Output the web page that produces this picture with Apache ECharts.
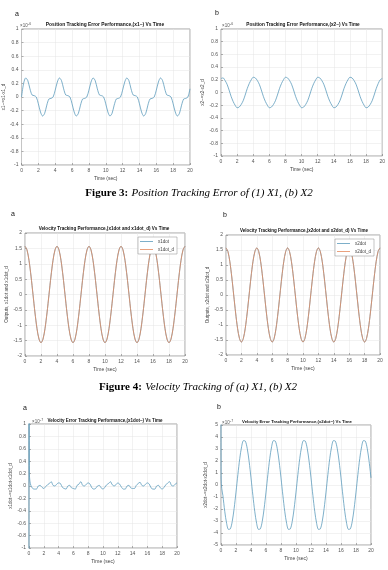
<!DOCTYPE html>
<html>
<head>
<meta charset="utf-8">
<script src="https://cdn.jsdelivr.net/npm/echarts@6/dist/echarts.min.js"></script>
<style>
  html, body { margin: 0; padding: 0; background: #fff; }
  #chart { width: 388px; height: 570px; }
</style>
</head>
<body>
<div id="chart"></div>
<script>
// sample times (sec)
var time = [0, 0.25, 0.5, 0.75, 1, 1.25, 1.5, 1.75, 2, 2.25, 2.5, 2.75, 3, 3.25, 3.5, 3.75,
  4, 4.25, 4.5, 4.75, 5, 5.25, 5.5, 5.75, 6, 6.25, 6.5, 6.75, 7, 7.25, 7.5, 7.75,
  8, 8.25, 8.5, 8.75, 9, 9.25, 9.5, 9.75, 10, 10.25, 10.5, 10.75, 11, 11.25, 11.5, 11.75,
  12, 12.25, 12.5, 12.75, 13, 13.25, 13.5, 13.75, 14, 14.25, 14.5, 14.75, 15, 15.25, 15.5, 15.75,
  16, 16.25, 16.5, 16.75, 17, 17.25, 17.5, 17.75, 18, 18.25, 18.5, 18.75, 19, 19.25, 19.5, 19.75, 20];

// Figure 3a : x1~ (x 1e-6)
var posErr1 = [0, 0.2, 0.28, 0.24, 0.12, 0.03, 0.02, 0, -0.1, -0.22, -0.28, -0.24, -0.12, -0.03, -0.02, 0,
  0.1, 0.22, 0.28, 0.24, 0.12, 0.03, 0.02, 0, -0.1, -0.22, -0.28, -0.24, -0.12, -0.03, -0.02, 0,
  0.1, 0.22, 0.28, 0.24, 0.12, 0.03, 0.02, 0, -0.1, -0.22, -0.28, -0.24, -0.12, -0.03, -0.02, 0,
  0.1, 0.22, 0.28, 0.24, 0.12, 0.03, 0.02, 0, -0.1, -0.22, -0.28, -0.24, -0.12, -0.03, -0.02, 0,
  0.1, 0.22, 0.28, 0.24, 0.12, 0.03, 0.02, 0, -0.1, -0.22, -0.28, -0.24, -0.12, -0.03, -0.02, 0,
  0.12];

// Figure 3b : x2~ (x 1e-6)
var posErr2 = [0.22, 0.23, 0.19, 0.13, 0.04, -0.06, -0.14, -0.2, -0.24, -0.23, -0.19, -0.13, -0.04, 0.06, 0.14, 0.2,
  0.24, 0.23, 0.19, 0.13, 0.04, -0.06, -0.14, -0.2, -0.24, -0.23, -0.19, -0.13, -0.04, 0.06, 0.14, 0.2,
  0.24, 0.23, 0.19, 0.13, 0.04, -0.06, -0.14, -0.2, -0.24, -0.23, -0.19, -0.13, -0.04, 0.06, 0.14, 0.2,
  0.24, 0.23, 0.19, 0.13, 0.04, -0.06, -0.14, -0.2, -0.24, -0.23, -0.19, -0.13, -0.04, 0.06, 0.14, 0.2,
  0.24, 0.23, 0.19, 0.13, 0.04, -0.06, -0.14, -0.2, -0.24, -0.23, -0.19, -0.13, -0.04, 0.06, 0.14, 0.2,
  0.22];

// Figure 4a/4b : velocities (actual and desired overlap)
var vel1 = [1.57, 1.45, 1.11, 0.6, 0, -0.6, -1.11, -1.45, -1.57, -1.45, -1.11, -0.6, 0, 0.6, 1.11, 1.45,
  1.57, 1.45, 1.11, 0.6, 0, -0.6, -1.11, -1.45, -1.57, -1.45, -1.11, -0.6, 0, 0.6, 1.11, 1.45,
  1.57, 1.45, 1.11, 0.6, 0, -0.6, -1.11, -1.45, -1.57, -1.45, -1.11, -0.6, 0, 0.6, 1.11, 1.45,
  1.57, 1.45, 1.11, 0.6, 0, -0.6, -1.11, -1.45, -1.57, -1.45, -1.11, -0.6, 0, 0.6, 1.11, 1.45,
  1.57, 1.45, 1.11, 0.6, 0, -0.6, -1.11, -1.45, -1.57, -1.45, -1.11, -0.6, 0, 0.6, 1.11, 1.45,
  1.57];
var vel1d = [1.57, 1.45, 1.11, 0.6, 0, -0.6, -1.11, -1.45, -1.57, -1.45, -1.11, -0.6, 0, 0.6, 1.11, 1.45,
  1.57, 1.45, 1.11, 0.6, 0, -0.6, -1.11, -1.45, -1.57, -1.45, -1.11, -0.6, 0, 0.6, 1.11, 1.45,
  1.57, 1.45, 1.11, 0.6, 0, -0.6, -1.11, -1.45, -1.57, -1.45, -1.11, -0.6, 0, 0.6, 1.11, 1.45,
  1.57, 1.45, 1.11, 0.6, 0, -0.6, -1.11, -1.45, -1.57, -1.45, -1.11, -0.6, 0, 0.6, 1.11, 1.45,
  1.57, 1.45, 1.11, 0.6, 0, -0.6, -1.11, -1.45, -1.57, -1.45, -1.11, -0.6, 0, 0.6, 1.11, 1.45,
  1.57];
var vel2 = vel1.slice();
var vel2d = vel1d.slice();

// Figure 5a : x1dot~ (x 1e-7), start spike then values from t = 0.25
var spikeTime1 = [0, 0.01, 0.05, 0.12];
var spikeErr1 = [-1.2, 1.2, 0.2, 0.08];
var velErr1 = [0.01, -0.04, -0.05, -0.05, 0, 0.01, -0.02, -0.04, -0.01, 0.02, 0.04, 0.07, 0.01, 0, 0.03, 0.05,
  0.04, -0.02, -0.04, -0.05, 0, 0.01, -0.03, -0.04, -0.05, 0.01, 0.03, 0.07, 0.01, 0, 0.03, 0.05,
  0.03, -0.03, -0.05, -0.04, 0, 0.01, -0.03, -0.05, -0.02, 0.02, 0.04, 0.07, 0.02, 0, 0.02, 0.05,
  0.03, -0.02, -0.05, -0.05, 0, 0.01, -0.03, -0.04, -0.04, 0.01, 0.04, 0.06, 0.01, 0, 0.03, 0.05,
  0.03, -0.03, -0.05, -0.05, 0, 0.01, -0.03, -0.05, -0.02, 0.02, 0.05, 0.07, 0.01, 0, 0.03, 0.05];

// Figure 5b : x2dot~ (x 1e-7), start spike then values from t = 0.25
var spikeTime2 = [0, 0.02, 0.1];
var spikeErr2 = [5.5, 0.5, -0.3];
var velErr2 = [-0.87, -2.2, -3.2, -3.7, -3.65, -3.03, -1.96, -0.59, 0.87, 2.2, 3.2, 3.7, 3.65, 3.03, 1.96, 0.59,
  -0.87, -2.2, -3.2, -3.7, -3.65, -3.03, -1.96, -0.59, 0.87, 2.2, 3.2, 3.7, 3.65, 3.03, 1.96, 0.59,
  -0.87, -2.2, -3.2, -3.7, -3.65, -3.03, -1.96, -0.59, 0.87, 2.2, 3.2, 3.7, 3.65, 3.03, 1.96, 0.59,
  -0.87, -2.2, -3.2, -3.7, -3.65, -3.03, -1.96, -0.59, 0.87, 2.2, 3.2, 3.7, 3.65, 3.03, 1.96, 0.59,
  -0.87, -2.2, -3.2, -3.7, -3.65, -3.03, -1.96, -0.59, 0.87, 2.2, 3.2, 3.7, 3.65, 3.03, 1.96, 0.59];

var SANS = '"Liberation Sans", Arial, sans-serif';
var SERIF = '"Liberation Serif", "Times New Roman", serif';
var BLUE = '#5d9cbc';
var ORANGE = '#e48a5e';

function pairs(ts, vs) {
  return vs.map(function (v, i) { return [ts[i], v]; });
}

var grids = [
  {left: 19, top: 29, width: 171, height: 136},
  {left: 221, top: 29, width: 164, height: 127},
  {left: 25, top: 233, width: 160, height: 123},
  {left: 226, top: 235, width: 154, height: 120},
  {left: 29, top: 424, width: 148, height: 124},
  {left: 221, top: 425, width: 150, height: 120}
];
grids.forEach(function (g) {
  g.show = true; g.borderColor = '#666'; g.borderWidth = 0.6; g.backgroundColor = '#fff';
});

var yCfg = [
  {min: -1, max: 1, interval: 0.2, name: 'x1~=x1-x1_d', gap: 14},
  {min: -1, max: 1, interval: 0.2, name: 'x2~=x2-x2_d', gap: 13},
  {min: -2, max: 2, interval: 0.5, name: 'Outputs, x1dot and x1dot_d', gap: 14},
  {min: -2, max: 2, interval: 0.5, name: 'Outputs, x2dot and x2dot_d', gap: 13},
  {min: -1, max: 1, interval: 0.2, name: 'x1dot~=x1dot-x1dot_d', gap: 9},
  {min: -5, max: 5, interval: 1, name: 'x2dot~=x2dot-x2dot_d', gap: 13}
];

var xAxes = grids.map(function (g, i) {
  return {
    type: 'value', gridIndex: i, min: 0, max: 20, interval: 2,
    axisLine: {show: false, onZero: false},
    axisTick: {inside: true, length: 2, lineStyle: {color: '#666', width: 0.5}},
    axisLabel: {fontSize: 5, color: '#555', margin: 3, fontFamily: SANS},
    splitLine: {show: true, lineStyle: {color: '#e4e4e4', width: 0.5}},
    name: 'Time (sec)', nameLocation: 'middle', nameGap: 11,
    nameTextStyle: {fontSize: 5, color: '#444', fontFamily: SANS}
  };
});
var yAxes = yCfg.map(function (c, i) {
  return {
    type: 'value', gridIndex: i, min: c.min, max: c.max, interval: c.interval,
    axisLine: {show: false, onZero: false},
    axisTick: {inside: true, length: 2, lineStyle: {color: '#666', width: 0.5}},
    axisLabel: {fontSize: 5, color: '#555', margin: 3, fontFamily: SANS,
      formatter: function (v) { return String(Math.round(v * 10) / 10); }},
    splitLine: {show: true, lineStyle: {color: '#e4e4e4', width: 0.5}},
    name: c.name, nameLocation: 'middle', nameGap: c.gap, nameRotate: 90,
    nameTextStyle: {fontSize: 4.6, color: '#444', fontFamily: SANS}
  };
});

function line(name, idx, data, color) {
  return {
    name: name, type: 'line', xAxisIndex: idx, yAxisIndex: idx, data: data,
    symbol: 'none', smooth: 0.3, animation: false,
    lineStyle: {color: color, width: 0.8}, itemStyle: {color: color}
  };
}

var series = [
  line('x1~', 0, pairs(time, posErr1), BLUE),
  line('x2~', 1, pairs(time, posErr2), BLUE),
  line('x1dot', 2, pairs(time, vel1), BLUE),
  line('x1dot_d', 2, pairs(time, vel1d), ORANGE),
  line('x2dot', 3, pairs(time, vel2), BLUE),
  line('x2dot_d', 3, pairs(time, vel2d), ORANGE),
  line('x1dot~', 4, pairs(spikeTime1, spikeErr1).concat(pairs(time.slice(1), velErr1)), BLUE),
  line('x2dot~', 5, pairs(spikeTime2, spikeErr2).concat(pairs(time.slice(1), velErr2)), BLUE)
];

function legendAt(names, right, top) {
  return {
    data: names, orient: 'vertical', right: right, top: top,
    icon: 'rect', itemWidth: 13, itemHeight: 0.8, itemGap: 3, padding: [2, 3, 2, 2],
    backgroundColor: '#fff', borderColor: '#888', borderWidth: 0.5,
    textStyle: {fontSize: 4.5, color: '#444', fontFamily: SANS}
  };
}

function txt(x, y, s, font, align, color) {
  return {type: 'text', x: x, y: y, silent: true,
    style: {text: s, font: font, fill: color || '#111', align: align || 'left', verticalAlign: 'middle'}};
}

var titles = [
  [105, 25, 'Position Tracking Error Performance,(x1~) Vs Time', 4.9],
  [303, 25, 'Position Tracking Error Performance,(x2~) Vs Time', 4.7],
  [104, 229, 'Velocity Tracking Performance,(x1dot and x1dot_d) Vs Time', 4.6],
  [304, 231, 'Velocity Tracking Performance,(x2dot and x2dot_d) Vs Time', 4.5],
  [105, 421, 'Velocity Error Tracking Performance,(x1dot~) Vs Time', 4.5],
  [297, 422, 'Velocity Error Tracking Performance,(x2dot~) Vs Time', 4.3]
];

var graphic = [];
titles.forEach(function (t) {
  graphic.push(txt(t[0], t[1], t[2], 'bold ' + t[3] + 'px ' + SANS, 'center'));
});
// panel letters
[[17, 14, 'a'], [217, 13, 'b'], [13, 214, 'a'], [225, 215, 'b'], [25, 408, 'a'], [219, 407, 'b']].forEach(function (p) {
  graphic.push(txt(p[0], p[1], p[2], '7px ' + SANS, 'center'));
});
// exponent labels
[[20, 25, '-6'], [222, 25, '-6'], [32, 421, '-7'], [222, 422, '-7']].forEach(function (p) {
  graphic.push(txt(p[0], p[1] + 1, '\u00d710', '4.5px ' + SANS, 'left', '#555'));
  graphic.push(txt(p[0] + 8, p[1] - 1, p[2], '3.5px ' + SANS, 'left', '#555'));
});
// figure captions
graphic.push({type: 'text', x: 199, y: 193, silent: true, style: {
  text: '{b|Figure 3:} {i|Position Tracking Error of (1) X1, (b) X2}',
  align: 'center', verticalAlign: 'middle',
  rich: {b: {font: 'bold 11px ' + SERIF, fill: '#000'}, i: {font: 'italic 11px ' + SERIF, fill: '#000'}}
}});
graphic.push({type: 'text', x: 198, y: 387, silent: true, style: {
  text: '{b|Figure 4:} {i|Velocity Tracking of (a) X1, (b) X2}',
  align: 'center', verticalAlign: 'middle',
  rich: {b: {font: 'bold 11px ' + SERIF, fill: '#000'}, i: {font: 'italic 11px ' + SERIF, fill: '#000'}}
}});

var chart = echarts.init(document.getElementById('chart'), null, {renderer: 'canvas'});
chart.setOption({
  animation: false,
  grid: grids,
  xAxis: xAxes,
  yAxis: yAxes,
  legend: [legendAt(['x1dot', 'x1dot_d'], 211, 237), legendAt(['x2dot', 'x2dot_d'], 14, 239)],
  series: series,
  graphic: graphic
});
</script>
</body>
</html>
